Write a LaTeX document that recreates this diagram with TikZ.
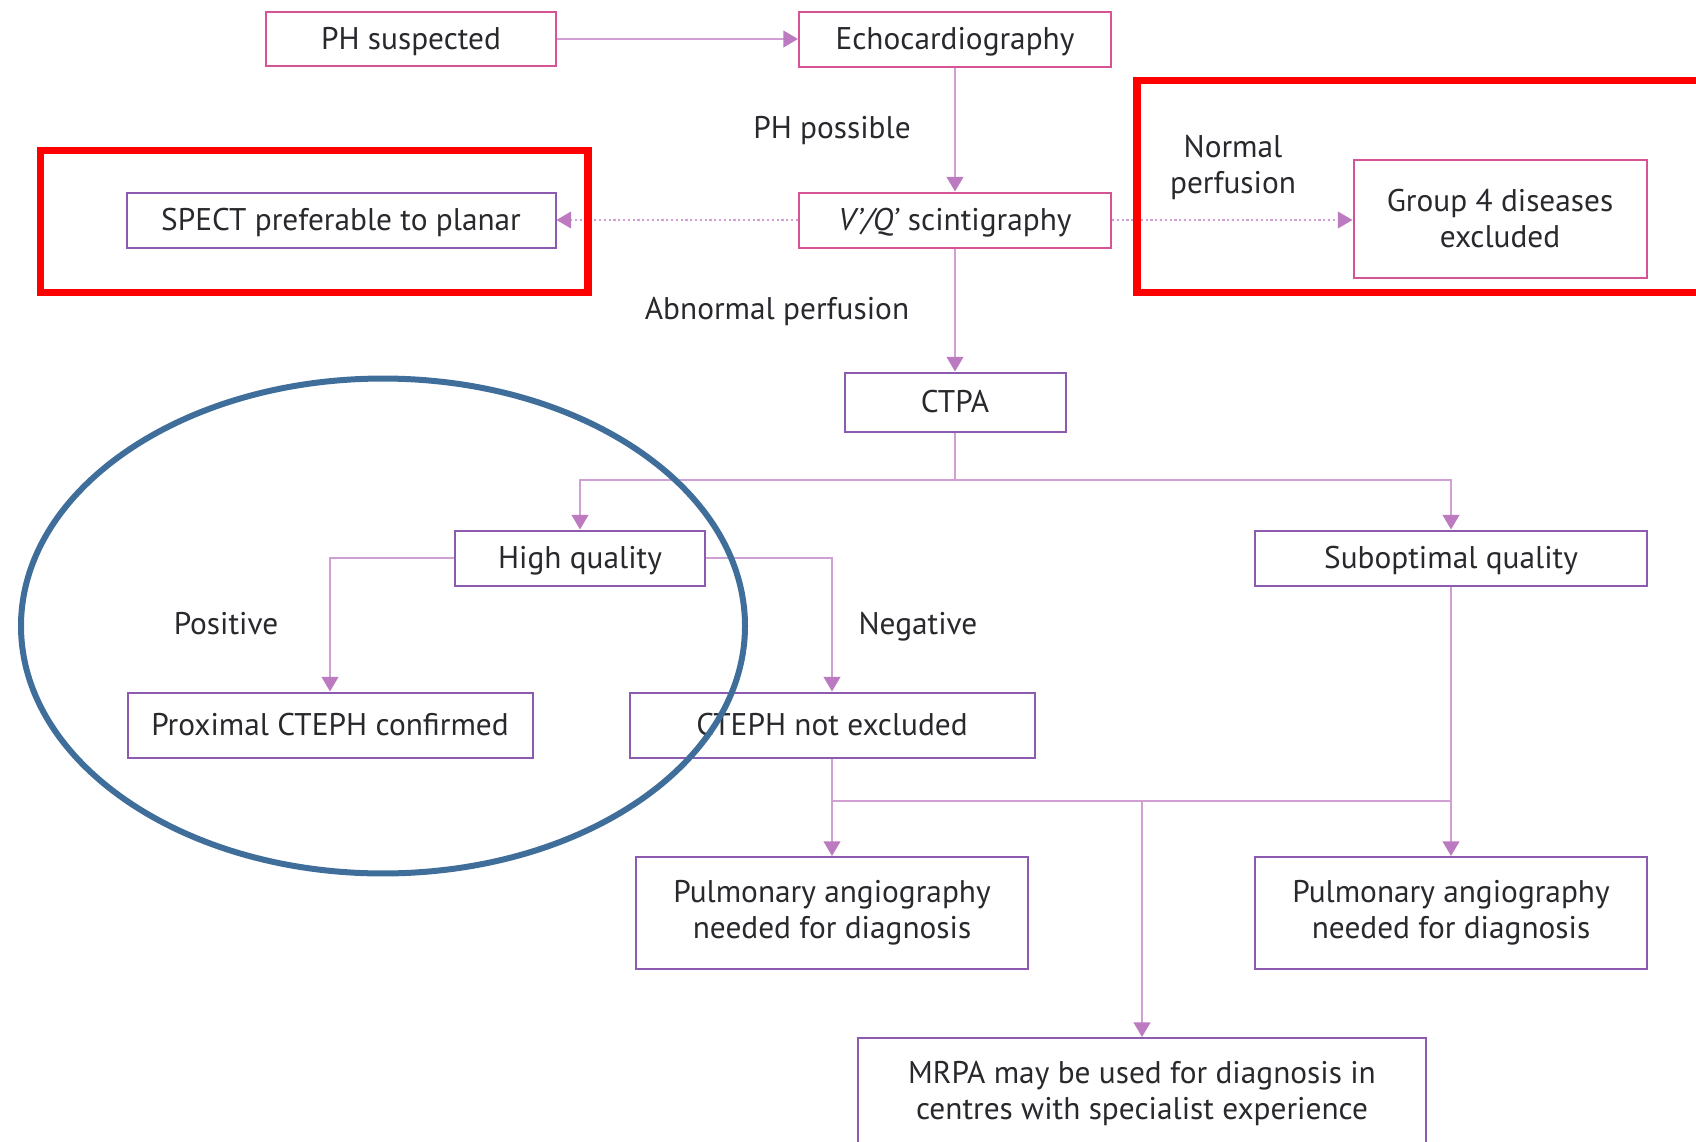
\documentclass[tikz,border=0pt]{standalone}
\usepackage{fontspec}
\setmainfont{PT Sans}
\usetikzlibrary{arrows.meta}
\definecolor{pinkb}{RGB}{214,84,150}
\definecolor{purpb}{RGB}{140,90,175}
\definecolor{linec}{RGB}{208,160,212}
\definecolor{arrc}{RGB}{188,122,192}
\definecolor{txt}{RGB}{40,40,45}
\definecolor{ellc}{RGB}{64,110,155}
\begin{document}
\begin{tikzpicture}[x=0.75pt,y=-0.75pt,
  font=\fontsize{23.5}{27}\selectfont, text=txt,
  box/.style={draw, line width=1.5pt, rectangle, inner sep=0pt, align=center},
  one/.style={text height=17.5pt, text depth=1.5pt},
  pbox/.style={box, draw=pinkb},
  ubox/.style={box, draw=purpb},
  bw/.style={minimum width=#1*0.75pt},
  bh/.style={minimum height=#1*0.75pt},
  conn/.style={draw=linec, line width=1.6pt},
  arr/.style={conn, -{Triangle[width=12.5pt,length=11pt,fill=arrc,color=arrc]}},
  dotconn/.style={arr, dotted, line width=1.3pt},
  lbl/.style={align=center, inner sep=0pt},
  redbox/.style={draw=red, line width=5.5pt},
]
\useasboundingbox (0,0) rectangle (1696,1142);
\clip (0,0) rectangle (1696,1142);

% boxes
\node[pbox, one, bw=290, bh=54] (phs) at (411,39) {PH suspected};
\node[pbox, one, bw=312, bh=55] (echo) at (955,39) {Echocardiography};
\node[pbox, one, bw=312, bh=55] (vq) at (955,220) {\textit{V'/Q'} scintigraphy};
\node[ubox, one, bw=429, bh=55] (spect) at (341,220) {SPECT preferable to planar};
\node[pbox, bw=293, bh=118] (grp) at (1500,219) {Group 4 diseases\\excluded};
\node[ubox, one, bw=221, bh=59] (ctpa) at (955,402) {CTPA};
\node[ubox, one, bw=250, bh=55] (hq) at (580,558) {High quality};
\node[ubox, one, bw=392, bh=55] (sub) at (1451,558) {Suboptimal quality};
\node[ubox, one, bw=405, bh=65] (prox) at (330,725) {Proximal CTEPH confirmed};
\node[ubox, one, bw=405, bh=65] (cne) at (832,725) {CTEPH not excluded};
\node[ubox, bw=392, bh=112] (pa1) at (832,913) {Pulmonary angiography\\needed for diagnosis};
\node[ubox, bw=392, bh=112] (pa2) at (1451,913) {Pulmonary angiography\\needed for diagnosis};
\node[ubox, bw=568, bh=110] (mrpa) at (1142,1093) {MRPA may be used for diagnosis in\\centres with specialist experience};

% labels
\node[lbl, one] (lpos) at (832,128) {PH possible};
\node[lbl] (lnorm) at (1233,167) {Normal\\perfusion};
\node[lbl, one] (labn) at (777,309) {Abnormal perfusion};
\node[lbl, one] (lposit) at (226,624) {Positive};
\node[lbl, one] (lneg) at (918,624) {Negative};

% junctions
\coordinate (j1) at (955,480);
\coordinate (j2) at (832,801);
\coordinate (j3) at (1142,801);
\coordinate (j4) at (1451,801);

% connectors
\draw[arr] (phs.east) -- (echo.west);
\draw[arr] (echo.south) -- (vq.north);
\draw[dotconn] (vq.west) -- (spect.east);
\draw[dotconn] (vq.east) -- (vq.east -| grp.west);
\draw[arr] (vq.south) -- (ctpa.north);
\draw[conn] (ctpa.south) -- (j1);
\draw[arr] (j1) -| (hq.north);
\draw[arr] (j1) -| (sub.north);
\draw[arr] (hq.west) -| (prox.north);
\draw[arr] (hq.east) -| (cne.north);
\draw[conn] (cne.south) -- (j2);
\draw[conn] (j2) -- (j4);
\draw[arr] (j2) -- (pa1.north);
\draw[arr] (sub.south) -- (pa2.north);
\draw[arr] (j3) -- (mrpa.north);

% highlights
\draw[redbox] (40.5,150.8) rectangle (588,292.7);
\draw[redbox] (1710,80.5) -- (1137,80.5) -- (1137,292.7) -- (1710,292.7);
\draw[draw=ellc, line width=4.5pt] (383,626) ellipse [x radius=271.5pt, y radius=185.6pt];
\end{tikzpicture}
\end{document}
